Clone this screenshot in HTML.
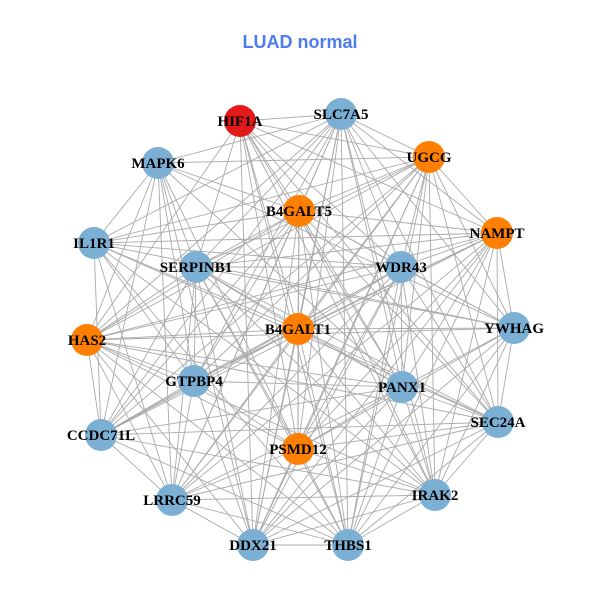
<!DOCTYPE html>
<html><head><meta charset="utf-8"><style>
html,body{margin:0;padding:0;background:#fff;}
svg{display:block;}
</style></head><body>
<svg id="g" width="600" height="600" viewBox="0 0 600 600" xmlns="http://www.w3.org/2000/svg">
<rect width="600" height="600" fill="#fff"/>
<text x="300" y="48" text-anchor="middle" font-family="Liberation Sans, sans-serif" font-weight="bold" font-size="18" fill="#4f7bf0">LUAD normal</text>
<g id="edges" stroke="#aaaaaa" stroke-width="0.9"></g>
<g id="nodes"></g>
</svg>
<script>
var N=[
["HIF1A",240,121,"#e31a1c"],["SLC7A5",341,114,"#7bafd4"],["UGCG",429,157,"#ff7f00"],
["MAPK6",158,163,"#7bafd4"],["B4GALT5",299,211,"#ff7f00"],["NAMPT",497,233,"#ff7f00"],
["IL1R1",94,243,"#7bafd4"],["SERPINB1",196,267,"#7bafd4"],["WDR43",401,267,"#7bafd4"],
["YWHAG",514,328,"#7bafd4"],["HAS2",87,340,"#ff7f00"],["B4GALT1",298,329,"#ff7f00"],
["GTPBP4",194,381,"#7bafd4"],["PANX1",402,387,"#7bafd4"],["SEC24A",498,422,"#7bafd4"],
["CCDC71L",101,435,"#7bafd4"],["PSMD12",298,449,"#ff7f00"],["IRAK2",435,495,"#7bafd4"],
["LRRC59",172,500,"#7bafd4"],["DDX21",253,545,"#7bafd4"],["THBS1",348,545,"#7bafd4"]];
var ns="http://www.w3.org/2000/svg",E=document.getElementById("edges"),G=document.getElementById("nodes");
for(var i=0;i<N.length;i++)for(var j=i+1;j<N.length;j++){
 if((i*7+j*3)%9==0)continue;
 var l=document.createElementNS(ns,"line");
 l.setAttribute("x1",N[i][1]);l.setAttribute("y1",N[i][2]);l.setAttribute("x2",N[j][1]);l.setAttribute("y2",N[j][2]);E.appendChild(l);}
N.forEach(function(n){
 var c=document.createElementNS(ns,"circle");c.setAttribute("cx",n[1]);c.setAttribute("cy",n[2]);c.setAttribute("r",16);c.setAttribute("fill",n[3]);G.appendChild(c);});
N.forEach(function(n){
 var t=document.createElementNS(ns,"text");t.setAttribute("x",n[1]);t.setAttribute("y",n[2]+5);t.setAttribute("text-anchor","middle");
 t.setAttribute("font-family","Liberation Serif, serif");t.setAttribute("font-weight","bold");t.setAttribute("font-size","15");t.textContent=n[0];G.appendChild(t);});
</script>
</body></html>
